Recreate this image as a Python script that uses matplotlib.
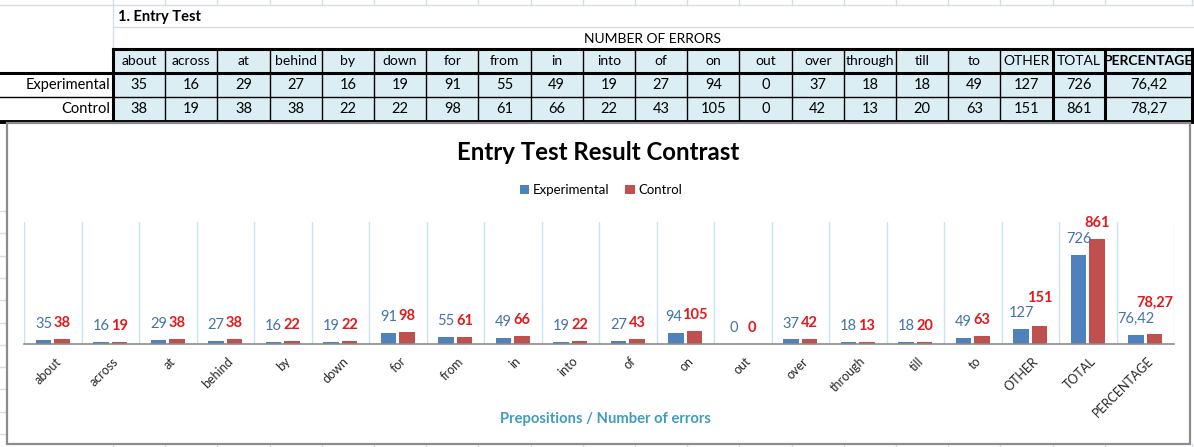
import matplotlib
matplotlib.use("Agg")
import matplotlib.pyplot as plt
import matplotlib.transforms as mtransforms
import numpy as np
from matplotlib.patches import Rectangle

plt.rcParams["font.family"] = ["Lato", "DejaVu Sans"]

categories = [
    "about", "across", "at", "behind", "by", "down", "for", "from", "in", "into",
    "of", "on", "out", "over", "through", "till", "to", "OTHER", "TOTAL", "PERCENTAGE",
]
experimental = [35, 16, 29, 27, 16, 19, 91, 55, 49, 19, 27, 94, 0, 37, 18, 18, 49, 127, 726, 76.42]
control = [38, 19, 38, 38, 22, 22, 98, 61, 66, 22, 43, 105, 0, 42, 13, 20, 63, 151, 861, 78.27]
series_names = ["Experimental", "Control"]

BLUE = "#4F81BD"
RED = "#C0504D"
BLUE_TXT = "#4472A8"
RED_TXT = "#E3191C"
CELL = "#DAEEF3"
GRID = "#D5DCE6"


def fmt(v):
    if float(v).is_integer():
        return str(int(v))
    return f"{v:.2f}".replace(".", ",")


W, H = 1194, 447
fig = plt.figure(figsize=(W / 100, H / 100), dpi=100)
bg = fig.add_axes([0, 0, 1, 1])
bg.set_xlim(0, W)
bg.set_ylim(H, 0)
bg.axis("off")

# spreadsheet grid peeking around the table / chart
col_w = 52.2
edges = [113 + col_w * i for i in range(len(categories))] + [1192]
bg.plot([0, W], [5, 5], color=GRID, lw=1)
for x in edges:
    bg.plot([x, x], [0, 5], color=GRID, lw=1)
    bg.plot([x, x], [444, H], color=GRID, lw=1)
bg.plot([113, 113], [5, 49], color=GRID, lw=1)
bg.plot([113, W], [27, 27], color=GRID, lw=1)
for y in np.arange(211, 444, 22.3):
    bg.plot([0, 7], [y, y], color=GRID, lw=1)

bg.text(118, 17, "1. Entry Test", fontsize=10.5, fontweight="bold", va="center", ha="left")
bg.text(653, 39, "NUMBER OF ERRORS", fontsize=10, va="center", ha="center")

# table
bg.add_patch(Rectangle((113, 49), 1192 - 113, 72, facecolor=CELL, edgecolor="none"))
thick = {0, len(categories) - 2, len(categories) - 1, len(categories)}
for i, x in enumerate(edges):
    bg.plot([x, x], [49, 121], color="black", lw=2.2 if i in thick else 1)
bg.plot([113, 1192], [49, 49], color="black", lw=2.2)
bg.plot([0, 1192], [73, 73], color="black", lw=2.2)
bg.plot([0, 1192], [97, 97], color="black", lw=1)
bg.plot([0, W], [121.5, 121.5], color="black", lw=2.8)

for i, name in enumerate(categories):
    cx = (edges[i] + edges[i + 1]) / 2
    bold = "bold" if name == "PERCENTAGE" else "normal"
    bg.text(cx, 61, name, fontsize=10, fontweight=bold, ha="center", va="center")
    bg.text(cx, 85, fmt(experimental[i]), fontsize=10.5, ha="center", va="center")
    bg.text(cx, 109, fmt(control[i]), fontsize=10.5, ha="center", va="center")
bg.text(110, 85, series_names[0], fontsize=10.5, ha="right", va="center")
bg.text(110, 109, series_names[1], fontsize=10.5, ha="right", va="center")

# chart box
bg.add_patch(Rectangle((7, 123), 1190 - 7, 444 - 123, facecolor="white",
                       edgecolor="none", zorder=0.5))
bg.add_patch(Rectangle((7, 123), 1190 - 7, 444 - 123, facecolor="none",
                       edgecolor="#8C8C8C", lw=1.6, zorder=5))
bg.text(598, 152, "Entry Test Result Contrast", fontsize=17.3, fontweight="bold",
        ha="center", va="center")
bg.text(605, 419, "Prepositions / Number of errors", fontsize=10.6, fontweight="bold",
        color="#3E9DBA", ha="center", va="center")

ax = fig.add_axes([24 / W, (H - 344) / H, 1150 / W, 122 / H])
ax.set_facecolor("none")
x = np.arange(len(categories))
bw = 0.27
b1 = ax.bar(x - 0.16, experimental, bw, color=BLUE, label=series_names[0])
b2 = ax.bar(x + 0.16, control, bw, color=RED, label=series_names[1])
ax.set_xlim(-0.5, len(categories) - 0.5)
ax.set_ylim(0, 1000)
for b in np.arange(-0.5, len(categories), 1):
    ax.axvline(b, color="#C9E4F0", lw=1, zorder=0)

# Excel labels were nudged by hand on a couple of bars
lift = [11.5] * len(categories)
lift_ctrl = list(lift)
lift_ctrl[categories.index("OTHER")] = 19.5
lift_ctrl[categories.index("PERCENTAGE")] = 23
nudge = [0] * len(categories)
nudge[categories.index("on")] = -2
for i in range(len(categories)):
    ax.annotate(fmt(experimental[i]), (x[i] - 0.16, experimental[i]),
                xytext=(nudge[i], lift[i]), textcoords="offset points",
                ha="center", va="center", fontsize=10.5, color=BLUE_TXT)
    ax.annotate(fmt(control[i]), (x[i] + 0.16, control[i]), xytext=(0, lift_ctrl[i]),
                textcoords="offset points", ha="center", va="center", fontsize=10.5,
                fontweight="bold", color=RED_TXT)

for s in ["top", "right", "left"]:
    ax.spines[s].set_visible(False)
ax.spines["bottom"].set_color("#8C8C8C")
ax.spines["bottom"].set_linewidth(1.2)
ax.set_yticks([])
ax.set_xticks(x)
ax.set_xticklabels(categories, fontsize=9, color="#262626")
ax.tick_params(axis="x", length=0, pad=11)
shift = mtransforms.ScaledTranslation(6 / 100, 0, fig.dpi_scale_trans)
for lab in ax.get_xticklabels():
    lab.set_rotation(45)
    lab.set_ha("right")
    lab.set_va("center")
    lab.set_rotation_mode("anchor")
    lab.set_transform(lab.get_transform() + shift)

fig.legend(handles=[b1, b2], loc="center", bbox_to_anchor=(601 / W, 1 - 190 / H),
           ncol=2, frameon=False, fontsize=9.5, handlelength=0.7, handleheight=0.7,
           handletextpad=0.3, columnspacing=1.2)

fig.savefig("out.png", dpi=100)
